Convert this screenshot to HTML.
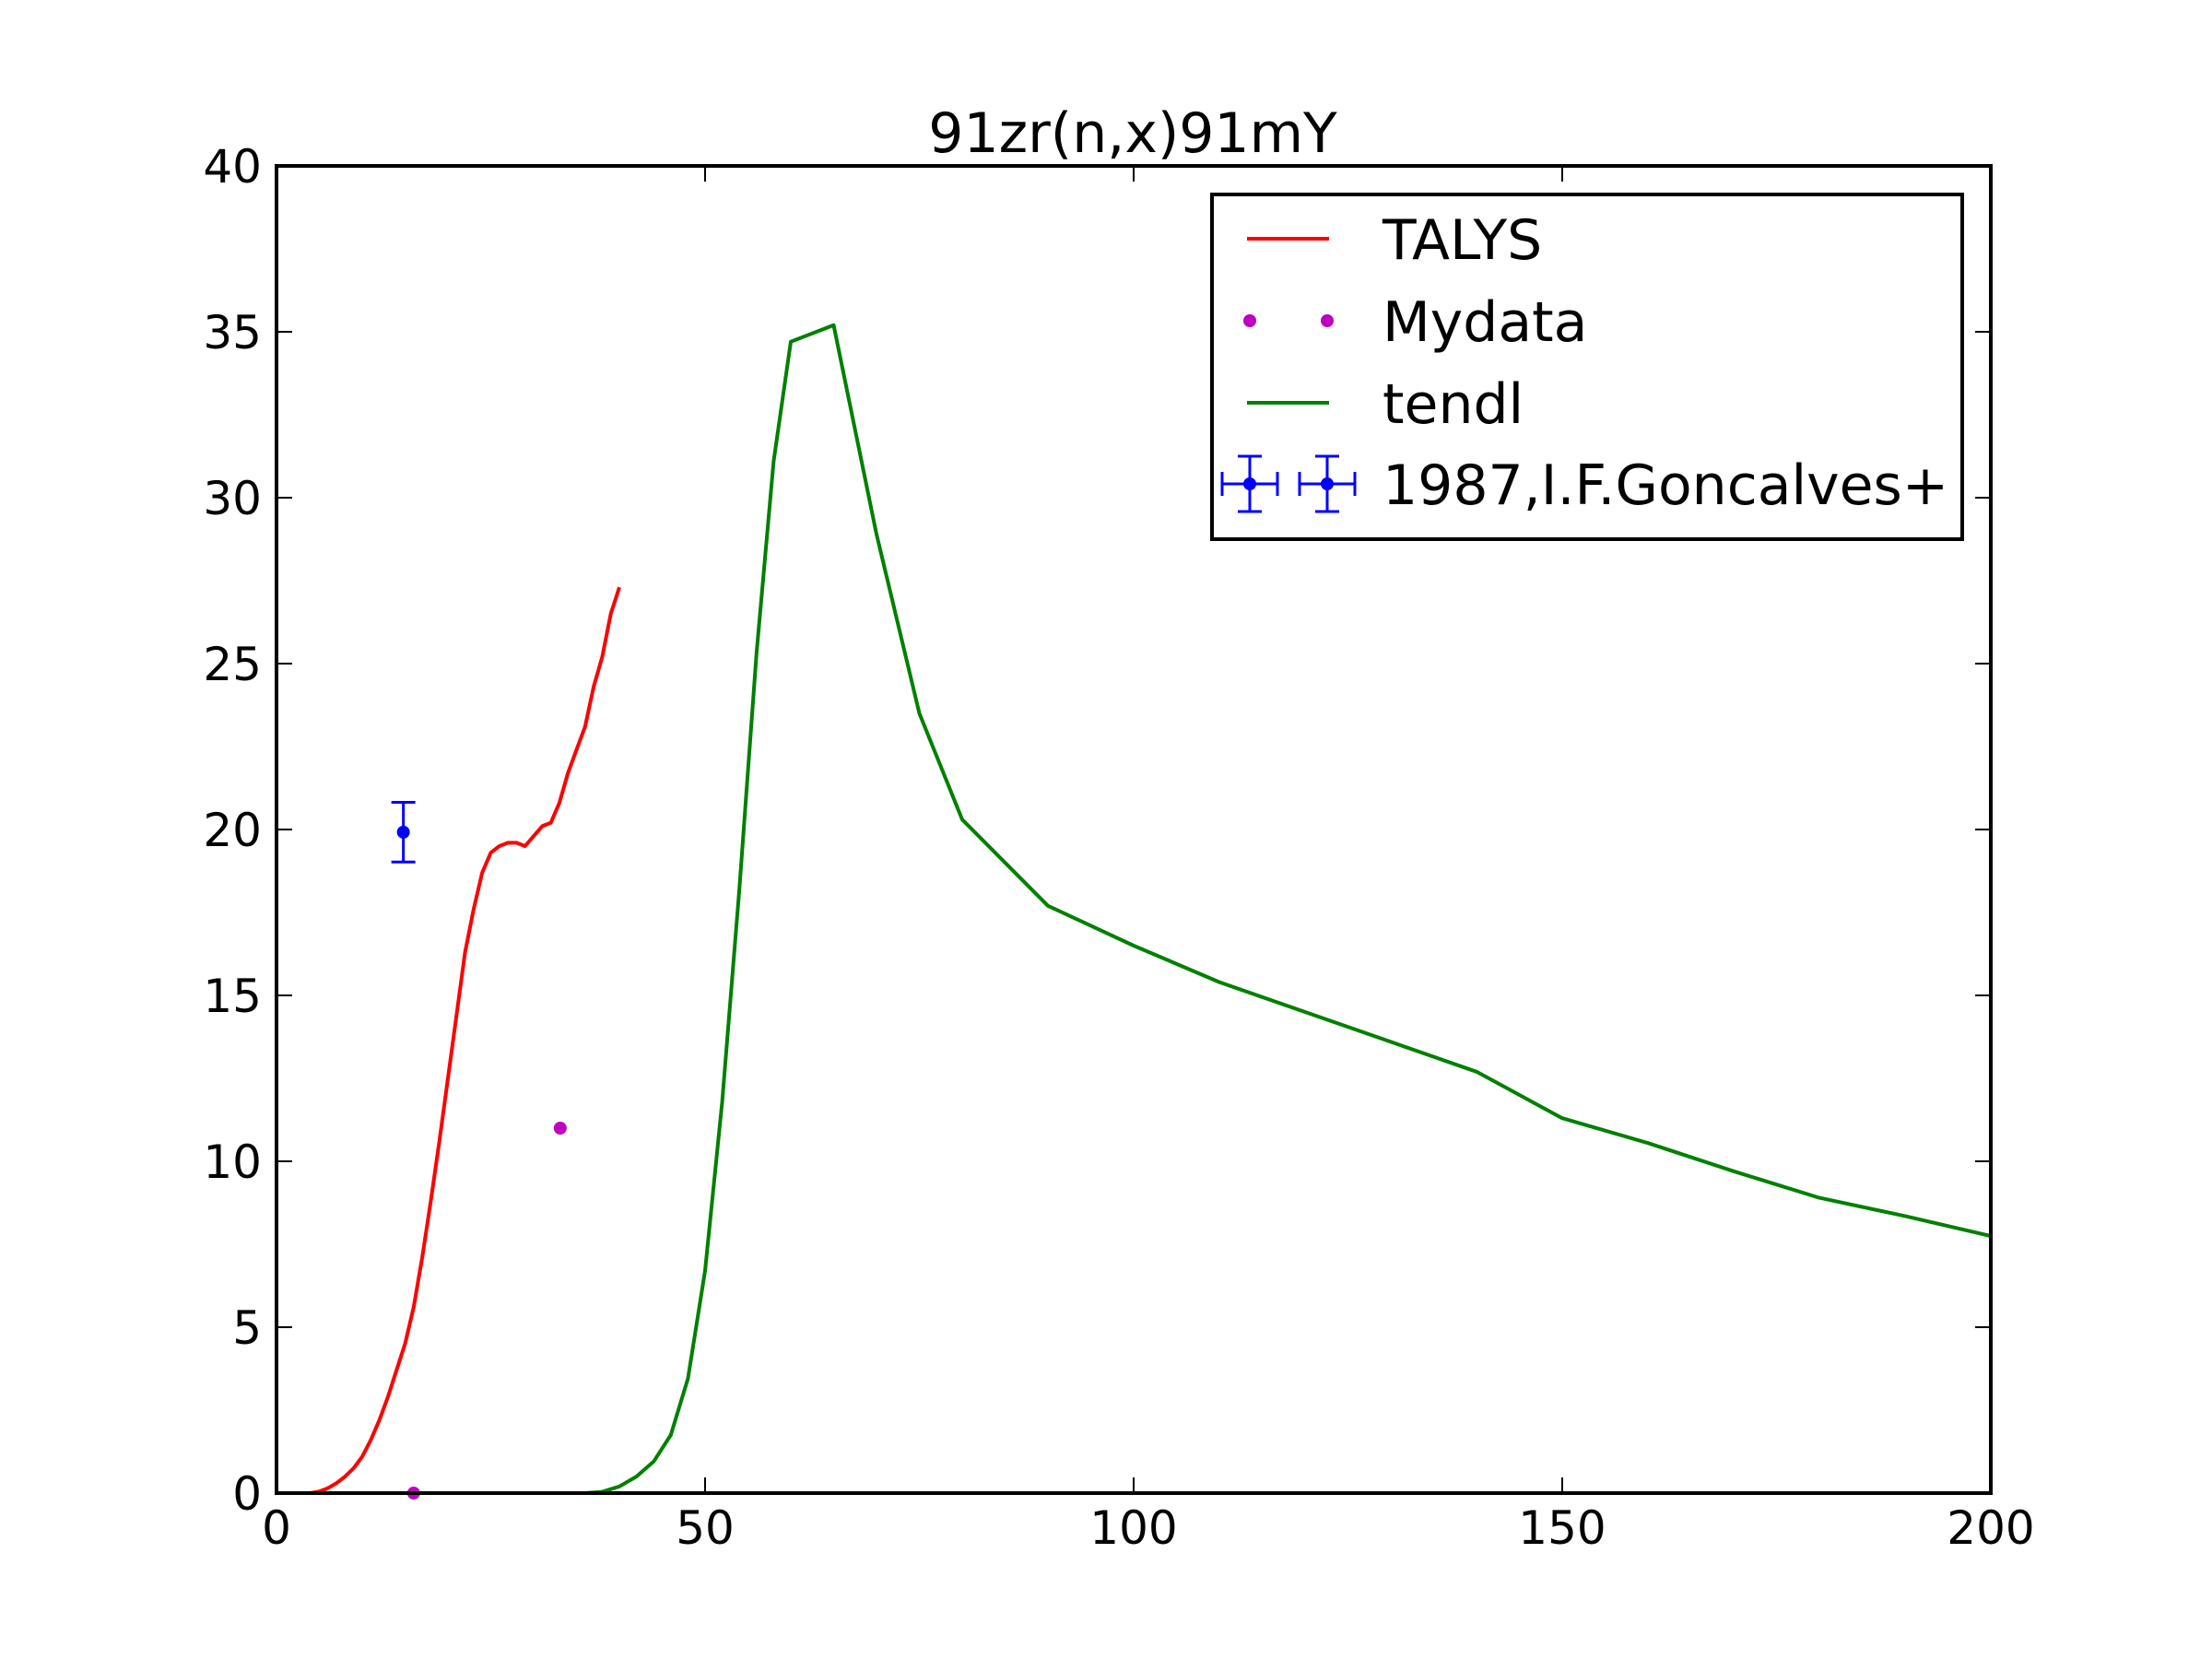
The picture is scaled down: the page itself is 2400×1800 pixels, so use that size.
<!DOCTYPE html>
<html><head><meta charset="utf-8"><style>
html,body{margin:0;padding:0;background:#fff;}
svg{display:block;font-family:"DejaVu Sans","Liberation Sans",sans-serif;}
</style></head><body>
<svg id="chart" width="2400" height="1800" viewBox="0 0 2400 1800" xmlns="http://www.w3.org/2000/svg">
<rect width="2400" height="1800" fill="#fff"/>
<text x="1229" y="165" font-size="60" text-anchor="middle">91zr(n,x)91mY</text>
<g id="plot"></g>
<g id="axes"></g>
<g id="legend">
<rect x="1315" y="211" width="814" height="374" fill="#fff" stroke="#000" stroke-width="4"/>
<g>
<line x1="1353" y1="259" x2="1442" y2="259" stroke="#f00" stroke-width="4"/>
<text x="1500" y="281" font-size="60">TALYS</text></g>
<g>
<circle cx="1356" cy="348" r="7" fill="#bf00bf"/><circle cx="1440" cy="348" r="7" fill="#bf00bf"/>
<text x="1500" y="370" font-size="60">Mydata</text></g>
<g>
<line x1="1353" y1="437" x2="1442" y2="437" stroke="#008000" stroke-width="4"/>
<text x="1500" y="459" font-size="60">tendl</text></g>
<g stroke="#00f" stroke-width="3" fill="#00f">
<line x1="1326" y1="525" x2="1386" y2="525"/><line x1="1356" y1="495" x2="1356" y2="555"/>
<line x1="1326" y1="512" x2="1326" y2="538"/><line x1="1386" y1="512" x2="1386" y2="538"/>
<line x1="1343" y1="495" x2="1369" y2="495"/><line x1="1343" y1="555" x2="1369" y2="555"/>
<circle cx="1356" cy="525" r="7" stroke="none"/>
<line x1="1410" y1="525" x2="1470" y2="525"/><line x1="1440" y1="495" x2="1440" y2="555"/>
<line x1="1410" y1="512" x2="1410" y2="538"/><line x1="1470" y1="512" x2="1470" y2="538"/>
<line x1="1427" y1="495" x2="1453" y2="495"/><line x1="1427" y1="555" x2="1453" y2="555"/>
<circle cx="1440" cy="525" r="7" stroke="none"/>
<text x="1500" y="547" font-size="60" fill="#000" stroke="none">1987,I.F.Goncalves+</text></g>
</g>
</svg>
<script>
const talysX=[0,4,5,6,7,8,9,10,11,12,13,14,15,16,17,18,19,20,21,22,23,24,25,26,27,28,29,30,31,32,33,34,35,36,37,38,39,40];
const talysY=[0,0,0.05,0.15,0.3,0.5,0.75,1.1,1.6,2.2,2.9,3.7,4.5,5.6,7.1,8.8,10.6,12.5,14.4,16.3,17.6,18.7,19.3,19.5,19.6,19.6,19.5,19.8,20.1,20.2,20.8,21.7,22.4,23.1,24.3,25.2,26.5,27.3];
const tendlX=[0,30,36,38,40,42,44,46,48,50,52,54,56,58,60,65,70,75,80,90,100,110,120,130,140,150,160,170,180,190,200];
const tendlY=[0,0,0,0.04,0.2,0.5,0.95,1.75,3.45,6.7,11.8,18.2,25.3,31.1,34.7,35.2,28.9,23.5,20.3,17.7,16.5,15.4,14.5,13.6,12.7,11.3,10.55,9.7,8.9,8.35,7.75];
const mydataX=[16,33.1];
const mydataY=[0,11.0];
const expX=[14.8];
const expY=[19.92];
const expYErr=[0.9];
const expXErr=[0.7];
const xTicks=[0,50,100,150,200];
const yTicks=[0,5,10,15,20,25,30,35,40];

const L=300,R=2160,T=180,B=1620;
const sx=v=>L+(v-0)/(200-0)*(R-L);
const sy=v=>B-(v-0)/(40-0)*(B-T);
const NS='http://www.w3.org/2000/svg';
const plot=document.getElementById('plot'), axes=document.getElementById('axes');
function mk(tag,attrs,parent){const e=document.createElementNS(NS,tag);for(const k in attrs)e.setAttribute(k,attrs[k]);parent.appendChild(e);return e;}

let p1=mk('polyline',{points:talysX.map((x,i)=>sx(x)+','+sy(talysY[i])).join(' '),fill:'none',stroke:'#f00','stroke-width':4,'stroke-linejoin':'round'},plot);


let p2=mk('polyline',{points:tendlX.map((x,i)=>sx(x)+','+sy(tendlY[i])).join(' '),fill:'none',stroke:'#008000','stroke-width':4,'stroke-linejoin':'round'},plot);


mydataX.forEach((x,i)=>{
  const c=mk('circle',{cx:sx(x),cy:sy(mydataY[i]),r:7,fill:'#bf00bf'},plot);
  
  
});
expX.forEach((x,i)=>{
  const g=mk('g',{stroke:'#00f','stroke-width':3,fill:'#00f'},plot);
  
  
  const cx=sx(x),cy=sy(expY[i]),y1=sy(expY[i]+expYErr[i]),y2=sy(expY[i]-expYErr[i]);
  const x1=sx(x-expXErr[i]),x2=sx(x+expXErr[i]);
  mk('line',{x1:cx,y1:y1,x2:cx,y2:y2},g);
  mk('line',{x1:x1,y1:cy,x2:x2,y2:cy},g);
  mk('line',{x1:cx-13,y1:y1,x2:cx+13,y2:y1},g);
  mk('line',{x1:cx-13,y1:y2,x2:cx+13,y2:y2},g);
  mk('circle',{cx:cx,cy:cy,r:7,stroke:'none'},g);
});
const fr=mk('rect',{x:L,y:T,width:R-L,height:B-T,fill:'none',stroke:'#000','stroke-width':4},axes);


xTicks.forEach(v=>{
  const x=sx(v);
  mk('line',{x1:x,y1:B,x2:x,y2:B-17,stroke:'#000','stroke-width':2},axes);
  mk('line',{x1:x,y1:T,x2:x,y2:T+17,stroke:'#000','stroke-width':2},axes);
  const t=mk('text',{x:x,y:1675,'font-size':50,'text-anchor':'middle'},axes);
  t.textContent=v;
  
  
});
yTicks.forEach(v=>{
  const y=sy(v);
  mk('line',{x1:L,y1:y,x2:L+17,y2:y,stroke:'#000','stroke-width':2},axes);
  mk('line',{x1:R,y1:y,x2:R-17,y2:y,stroke:'#000','stroke-width':2},axes);
  const t=mk('text',{x:284,y:y+18,'font-size':50,'text-anchor':'end'},axes);
  t.textContent=v;
  
  
});
</script>
</body></html>
